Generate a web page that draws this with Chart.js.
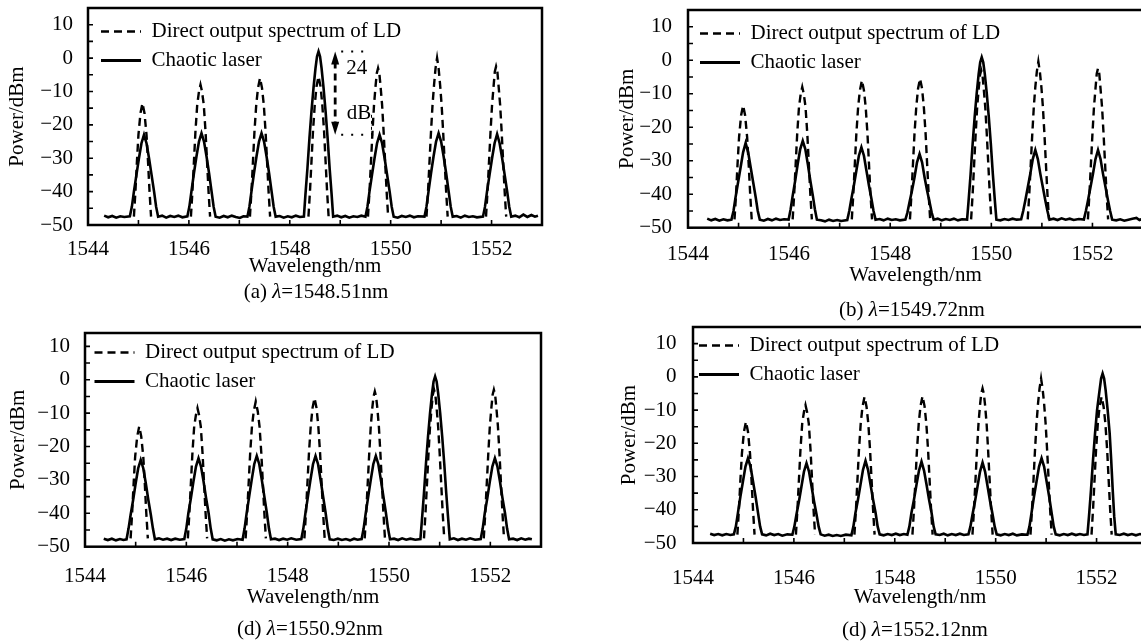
<!DOCTYPE html>
<html><head><meta charset="utf-8">
<script src="https://cdn.jsdelivr.net/npm/chart.js@4.4.0/dist/chart.umd.min.js"></script>
<style>
html,body{margin:0;padding:0;background:#fff;overflow:hidden;width:1141px;height:642px;position:relative}
.panel{position:absolute}
.cap{position:absolute;font:21px "Liberation Serif","Times New Roman",serif;line-height:24px;color:#000;white-space:nowrap;transform:translateX(-50%)}
</style></head><body>
<div class="panel" style="left:0;top:0;width:560px;height:280px"><canvas id="ca"></canvas></div>
<div class="panel" style="left:600px;top:0;width:560px;height:290px"><canvas id="cb"></canvas></div>
<div class="panel" style="left:0;top:320px;width:560px;height:322px"><canvas id="cc"></canvas></div>
<div class="panel" style="left:600px;top:320px;width:560px;height:322px"><canvas id="cd"></canvas></div>
<div class="cap" style="left:316px;top:279px">(a) <i>λ</i>=1548.51nm</div>
<div class="cap" style="left:912px;top:297px">(b) <i>λ</i>=1549.72nm</div>
<div class="cap" style="left:310px;top:616px">(d) <i>λ</i>=1550.92nm</div>
<div class="cap" style="left:915px;top:617px">(d) <i>λ</i>=1552.12nm</div>
<script>
// ---------- labels & ticks ----------
const seriesNames = ['Direct output spectrum of LD', 'Chaotic laser'];
const xTitle = 'Wavelength/nm';
const yTitle = 'Power/dBm';
const xTickLabels = [1544, 1546, 1548, 1550, 1552];
const yTickLabels = [10, 0, -10, -20, -30, -40, -50];
const xTickMarks = [1544, 1545, 1546, 1547, 1548, 1549, 1550, 1551, 1552, 1553];
const yTickMarks = [-50, -45, -40, -35, -30, -25, -20, -15, -10, -5, 0, 5, 10, 15];

// ---------- panel (a) ----------
const ldA = [
[1544.91,-47.5],[1544.94,-40],[1544.97,-31],[1545.00,-23],[1545.04,-16.5],[1545.08,-13.5],[1545.12,-16.5],[1545.16,-23],[1545.19,-31],[1545.22,-40],[1545.25,-47.5],[1545.3,null],
[1546.04,-47.5],[1546.07,-40],[1546.10,-31],[1546.13,-22],[1546.165,-14],[1546.20,-10],[1546.23,-8],[1546.26,-10],[1546.295,-14],[1546.33,-22],[1546.36,-31],[1546.39,-40],[1546.42,-47.5],[1546.5,null],
[1547.21,-47.5],[1547.24,-40],[1547.27,-31],[1547.30,-22],[1547.335,-14],[1547.37,-9],[1547.41,-6],[1547.45,-9],[1547.485,-14],[1547.52,-22],[1547.55,-31],[1547.58,-40],[1547.61,-47.5],[1547.7,null],
[1548.37,-47.5],[1548.40,-40],[1548.43,-31],[1548.46,-22],[1548.495,-14],[1548.53,-8.5],[1548.57,-5.5],[1548.61,-8.5],[1548.645,-14],[1548.68,-22],[1548.71,-31],[1548.74,-40],[1548.77,-47.5],[1548.85,null],
[1549.55,-47.5],[1549.58,-40],[1549.61,-31],[1549.64,-22],[1549.67,-14],[1549.70,-8.5],[1549.725,-4.5],[1549.75,-3],[1549.775,-4.5],[1549.80,-8.5],[1549.83,-14],[1549.86,-22],[1549.89,-31],[1549.92,-40],[1549.95,-47.5],[1550.0,null],
[1550.71,-47.5],[1550.74,-40],[1550.77,-31],[1550.80,-22],[1550.83,-14],[1550.86,-8],[1550.89,-3],[1550.92,0],[1550.95,-3],[1550.98,-8],[1551.01,-14],[1551.04,-22],[1551.07,-31],[1551.10,-40],[1551.13,-47.5],[1551.2,null],
[1551.89,-47.5],[1551.92,-40],[1551.95,-31],[1551.98,-22],[1552.01,-14],[1552.04,-8.5],[1552.065,-4],[1552.09,-2.5],[1552.115,-4],[1552.14,-8.5],[1552.17,-14],[1552.20,-22],[1552.23,-31],[1552.26,-40],[1552.29,-47.5]
];
const chaosA = [
[1544.32,-47.2],[1544.40,-47.7],[1544.48,-47.3],[1544.56,-47.8],[1544.64,-47.4],[1544.72,-47.6],[1544.83,-47.4],
[1544.87,-44.5],[1544.91,-40],[1544.96,-35],[1545.01,-30],[1545.06,-25.5],[1545.11,-23],[1545.16,-25.5],[1545.21,-30],[1545.26,-35],[1545.31,-40],[1545.35,-44.5],[1545.39,-47.5],
[1545.47,-47.2],[1545.55,-47.8],[1545.63,-47.3],[1545.71,-47.6],[1545.79,-47.2],[1545.87,-47.7],[1545.97,-47.4],
[1546.01,-44.5],[1546.05,-40],[1546.10,-34.5],[1546.15,-29.5],[1546.20,-25],[1546.25,-22.5],[1546.30,-25],[1546.35,-29.5],[1546.40,-34.5],[1546.45,-40],[1546.49,-44.5],[1546.53,-47.5],
[1546.61,-47.8],[1546.69,-47.3],[1546.77,-47.7],[1546.85,-47.2],[1546.93,-47.6],[1547.01,-47.9],[1547.08,-47.4],[1547.16,-47.5],
[1547.20,-44.5],[1547.24,-40],[1547.29,-34.5],[1547.34,-29.5],[1547.39,-25],[1547.44,-22.5],[1547.49,-25],[1547.54,-29.5],[1547.59,-34.5],[1547.64,-40],[1547.68,-44.5],[1547.72,-47.5],
[1547.80,-47.3],[1547.88,-47.8],[1547.96,-47.4],[1548.04,-47.7],[1548.12,-47.2],[1548.20,-47.6],[1548.28,-47.5],
[1548.31,-41],[1548.35,-33],[1548.39,-24],[1548.43,-16],[1548.47,-9],[1548.51,-3],[1548.54,0.5],[1548.57,2],[1548.60,0.5],[1548.63,-3],[1548.67,-9],[1548.71,-16],[1548.75,-24],[1548.79,-33],[1548.83,-41],[1548.86,-47.5],
[1548.94,-47.2],[1549.02,-47.7],[1549.10,-47.3],[1549.18,-47.8],[1549.26,-47.4],[1549.34,-47.6],[1549.42,-47.2],[1549.50,-47.5],
[1549.54,-44.5],[1549.58,-40],[1549.63,-35],[1549.68,-30],[1549.73,-25.5],[1549.78,-23],[1549.83,-25.5],[1549.88,-30],[1549.93,-35],[1549.98,-40],[1550.02,-44.5],[1550.06,-47.5],
[1550.14,-47.8],[1550.22,-47.3],[1550.30,-47.6],[1550.38,-47.2],[1550.46,-47.7],[1550.54,-47.4],[1550.67,-47.5],
[1550.71,-44.5],[1550.75,-40],[1550.80,-34.5],[1550.85,-29.5],[1550.90,-25],[1550.95,-22.5],[1551.00,-25],[1551.05,-29.5],[1551.10,-34.5],[1551.15,-40],[1551.19,-44.5],[1551.23,-47.5],
[1551.31,-47.3],[1551.39,-47.8],[1551.47,-47.2],[1551.55,-47.6],[1551.63,-47.4],[1551.71,-47.7],[1551.83,-47.5],
[1551.87,-44.5],[1551.91,-40],[1551.96,-35],[1552.01,-30],[1552.06,-25.5],[1552.11,-22.8],[1552.16,-25.5],[1552.21,-30],[1552.26,-35],[1552.31,-40],[1552.35,-44.5],[1552.39,-47.5],
[1552.47,-47.2],[1552.55,-47.7],[1552.63,-46.9],[1552.71,-47.6],[1552.79,-47.0],[1552.86,-47.5],[1552.92,-47.2]
];

// ---------- panel (b) ----------
const ldB = [
[1544.92,-47.5],[1544.95,-40],[1544.98,-31],[1545.01,-23],[1545.05,-16.5],[1545.09,-13.5],[1545.13,-16.5],[1545.17,-23],[1545.20,-31],[1545.23,-40],[1545.26,-47.5],[1545.3,null],
[1546.07,-47.5],[1546.10,-40],[1546.13,-31],[1546.16,-22],[1546.195,-14],[1546.23,-10],[1546.26,-8],[1546.29,-10],[1546.325,-14],[1546.36,-22],[1546.39,-31],[1546.42,-40],[1546.45,-47.5],[1546.5,null],
[1547.24,-47.5],[1547.27,-40],[1547.30,-31],[1547.33,-22],[1547.365,-14],[1547.40,-9],[1547.44,-6],[1547.48,-9],[1547.515,-14],[1547.55,-22],[1547.58,-31],[1547.61,-40],[1547.64,-47.5],[1547.7,null],
[1548.39,-47.5],[1548.42,-40],[1548.45,-31],[1548.48,-22],[1548.515,-14],[1548.55,-8.5],[1548.59,-5.5],[1548.63,-8.5],[1548.665,-14],[1548.70,-22],[1548.73,-31],[1548.76,-40],[1548.79,-47.5],[1548.85,null],
[1549.60,-47.5],[1549.63,-40],[1549.66,-31],[1549.69,-22],[1549.72,-14],[1549.75,-8.5],[1549.775,-4.5],[1549.80,-3],[1549.825,-4.5],[1549.85,-8.5],[1549.88,-14],[1549.91,-22],[1549.94,-31],[1549.97,-40],[1550.00,-47.5],[1550.05,null],
[1550.72,-47.5],[1550.75,-40],[1550.78,-31],[1550.81,-22],[1550.84,-14],[1550.87,-8],[1550.90,-3.4],[1550.93,-0.4],[1550.96,-3.4],[1550.99,-8],[1551.02,-14],[1551.05,-22],[1551.08,-31],[1551.11,-40],[1551.14,-47.5],[1551.2,null],
[1551.91,-47.5],[1551.94,-40],[1551.97,-31],[1552.00,-22],[1552.03,-14],[1552.06,-8.5],[1552.085,-4],[1552.11,-2.4],[1552.135,-4],[1552.16,-8.5],[1552.19,-14],[1552.22,-22],[1552.25,-31],[1552.28,-40],[1552.31,-47.5]
];
const chaosB = [
[1544.38,-47.3],[1544.46,-47.8],[1544.54,-47.4],[1544.62,-47.9],[1544.70,-47.5],[1544.78,-47.8],[1544.86,-47.6],
[1544.90,-45],[1544.94,-41],[1544.99,-36.5],[1545.04,-32],[1545.09,-27.5],[1545.14,-24.7],[1545.19,-27.5],[1545.24,-32],[1545.29,-36.5],[1545.34,-41],[1545.38,-45],[1545.42,-47.6],
[1545.50,-47.9],[1545.58,-47.4],[1545.66,-47.8],[1545.74,-47.3],[1545.82,-47.7],[1545.90,-47.5],[1545.99,-47.6],
[1546.03,-44.5],[1546.07,-40.5],[1546.12,-36],[1546.17,-31],[1546.22,-26.5],[1546.27,-24.1],[1546.32,-26.5],[1546.37,-31],[1546.42,-36],[1546.47,-40.5],[1546.51,-44.5],[1546.55,-47.6],
[1546.63,-47.8],[1546.71,-48.1],[1546.79,-47.6],[1546.87,-48.0],[1546.95,-47.7],[1547.03,-48.0],[1547.15,-47.7],
[1547.19,-45],[1547.23,-41.5],[1547.28,-37.5],[1547.33,-33],[1547.38,-28.5],[1547.43,-26],[1547.48,-28.5],[1547.53,-33],[1547.58,-37.5],[1547.63,-41.5],[1547.67,-45],[1547.71,-47.6],
[1547.79,-47.4],[1547.87,-47.8],[1547.95,-47.3],[1548.03,-47.7],[1548.11,-47.5],[1548.19,-47.8],[1548.30,-47.6],
[1548.34,-45.5],[1548.38,-42.5],[1548.43,-39],[1548.48,-35],[1548.53,-30.5],[1548.58,-28],[1548.63,-30.5],[1548.68,-35],[1548.73,-39],[1548.78,-42.5],[1548.82,-45.5],[1548.86,-47.6],
[1548.94,-47.3],[1549.02,-47.8],[1549.10,-47.4],[1549.18,-47.7],[1549.26,-47.3],[1549.34,-47.8],[1549.42,-47.5],[1549.52,-47.6],
[1549.55,-42],[1549.59,-34],[1549.63,-25],[1549.67,-17],[1549.71,-10],[1549.75,-4],[1549.78,-0.6],[1549.81,0.9],[1549.84,-0.6],[1549.87,-4],[1549.91,-10],[1549.95,-17],[1549.99,-25],[1550.03,-34],[1550.07,-42],[1550.10,-47.6],
[1550.18,-47.8],[1550.26,-47.4],[1550.34,-47.7],[1550.42,-47.3],[1550.50,-47.6],[1550.59,-47.5],
[1550.63,-45],[1550.67,-42],[1550.72,-38],[1550.77,-34],[1550.82,-29.5],[1550.87,-26.8],[1550.92,-29.5],[1550.97,-34],[1551.02,-38],[1551.07,-42],[1551.11,-45],[1551.15,-47.6],
[1551.23,-47.3],[1551.31,-47.7],[1551.39,-47.2],[1551.47,-47.6],[1551.55,-47.3],[1551.63,-47.7],[1551.73,-47.4],[1551.83,-47.6],
[1551.87,-45],[1551.91,-42],[1551.96,-38],[1552.01,-34],[1552.06,-29.5],[1552.11,-26.8],[1552.16,-29.5],[1552.21,-34],[1552.26,-38],[1552.31,-42],[1552.35,-45],[1552.39,-47.6],
[1552.47,-47.8],[1552.55,-47.5],[1552.63,-47.9],[1552.71,-47.6],[1552.79,-47.3],[1552.87,-47.1],[1552.93,-47.7],[1552.98,-47.4]
];

// ---------- panel (c) ----------
const ldC = [
[1544.90,-47.5],[1544.93,-40],[1544.96,-31],[1544.99,-23],[1545.03,-17],[1545.07,-14],[1545.11,-17],[1545.15,-23],[1545.18,-31],[1545.21,-40],[1545.24,-47.5],[1545.3,null],
[1546.03,-47.5],[1546.06,-40],[1546.09,-31],[1546.12,-22],[1546.155,-14],[1546.19,-10.5],[1546.22,-8.5],[1546.25,-10.5],[1546.285,-14],[1546.32,-22],[1546.35,-31],[1546.38,-40],[1546.41,-47.5],[1546.5,null],
[1547.17,-47.5],[1547.20,-40],[1547.23,-31],[1547.26,-22],[1547.295,-14],[1547.33,-9.5],[1547.37,-6.5],[1547.41,-9.5],[1547.445,-14],[1547.48,-22],[1547.51,-31],[1547.54,-40],[1547.57,-47.5],[1547.65,null],
[1548.33,-47.5],[1548.36,-40],[1548.39,-31],[1548.42,-22],[1548.455,-14],[1548.49,-8.5],[1548.53,-5.5],[1548.57,-8.5],[1548.605,-14],[1548.64,-22],[1548.67,-31],[1548.70,-40],[1548.73,-47.5],[1548.8,null],
[1549.52,-47.5],[1549.55,-40],[1549.58,-31],[1549.61,-22],[1549.64,-14],[1549.67,-8.5],[1549.695,-5],[1549.72,-3.5],[1549.745,-5],[1549.77,-8.5],[1549.80,-14],[1549.83,-22],[1549.86,-31],[1549.89,-40],[1549.92,-47.5],[1550.0,null],
[1550.69,-47.5],[1550.72,-40],[1550.75,-31],[1550.78,-22],[1550.81,-14],[1550.84,-8.5],[1550.865,-4.5],[1550.89,-3],[1550.915,-4.5],[1550.94,-8.5],[1550.97,-14],[1551.00,-22],[1551.03,-31],[1551.06,-40],[1551.09,-47.5],[1551.15,null],
[1551.87,-47.5],[1551.90,-40],[1551.93,-31],[1551.96,-22],[1551.99,-14],[1552.02,-8.5],[1552.045,-4.5],[1552.07,-3],[1552.095,-4.5],[1552.12,-8.5],[1552.15,-14],[1552.18,-22],[1552.21,-31],[1552.24,-40],[1552.27,-47.5]
];
const chaosC = [
[1544.37,-47.6],[1544.45,-48.0],[1544.53,-47.6],[1544.61,-48.1],[1544.69,-47.7],[1544.76,-48.0],[1544.82,-47.8],
[1544.86,-44.5],[1544.90,-40.5],[1544.95,-36],[1545.00,-31],[1545.05,-26.5],[1545.10,-24],[1545.15,-26.5],[1545.20,-31],[1545.25,-36],[1545.30,-40.5],[1545.34,-44.5],[1545.38,-47.8],
[1545.46,-47.5],[1545.54,-47.9],[1545.62,-47.6],[1545.70,-48.0],[1545.78,-47.6],[1545.87,-47.9],[1545.96,-47.7],
[1546.00,-44.5],[1546.04,-40],[1546.09,-35.5],[1546.14,-30.5],[1546.19,-26],[1546.24,-23.5],[1546.29,-26],[1546.34,-30.5],[1546.39,-35.5],[1546.44,-40],[1546.48,-44.5],[1546.52,-47.8],
[1546.60,-48.1],[1546.68,-47.7],[1546.76,-48.2],[1546.84,-47.8],[1546.92,-48.1],[1547.01,-47.7],[1547.11,-47.9],
[1547.15,-44.5],[1547.19,-40],[1547.24,-35],[1547.29,-30],[1547.34,-25.3],[1547.39,-22.8],[1547.44,-25.3],[1547.49,-30],[1547.54,-35],[1547.59,-40],[1547.63,-44.5],[1547.67,-47.8],
[1547.75,-47.6],[1547.83,-48.0],[1547.91,-47.6],[1547.99,-47.9],[1548.07,-47.5],[1548.17,-47.9],[1548.27,-47.7],
[1548.31,-44.5],[1548.35,-40],[1548.40,-35],[1548.45,-30],[1548.50,-25.3],[1548.55,-22.8],[1548.60,-25.3],[1548.65,-30],[1548.70,-35],[1548.75,-40],[1548.79,-44.5],[1548.83,-47.8],
[1548.91,-48.0],[1548.99,-47.6],[1549.07,-48.0],[1549.15,-47.7],[1549.23,-48.1],[1549.31,-47.6],[1549.38,-47.9],[1549.46,-47.7],
[1549.50,-44.5],[1549.54,-40],[1549.59,-35],[1549.64,-30],[1549.69,-25.3],[1549.74,-22.8],[1549.79,-25.3],[1549.84,-30],[1549.89,-35],[1549.94,-40],[1549.98,-44.5],[1550.02,-47.8],
[1550.10,-47.6],[1550.18,-48.0],[1550.26,-47.5],[1550.34,-47.9],[1550.42,-47.6],[1550.52,-47.9],[1550.62,-47.7],
[1550.65,-42],[1550.69,-34],[1550.73,-25],[1550.77,-17],[1550.81,-10],[1550.85,-4],[1550.88,-0.5],[1550.91,1],[1550.94,-0.5],[1550.97,-4],[1551.01,-10],[1551.05,-17],[1551.09,-25],[1551.13,-34],[1551.17,-42],[1551.20,-47.8],
[1551.28,-47.5],[1551.36,-48.0],[1551.44,-47.6],[1551.52,-47.9],[1551.60,-47.5],[1551.70,-47.9],[1551.81,-47.7],
[1551.85,-44.5],[1551.89,-40],[1551.94,-35.5],[1551.99,-30.5],[1552.04,-26],[1552.09,-23.5],[1552.14,-26],[1552.19,-30.5],[1552.24,-35.5],[1552.29,-40],[1552.33,-44.5],[1552.37,-47.8],
[1552.45,-47.6],[1552.53,-48.0],[1552.61,-47.5],[1552.69,-47.9],[1552.76,-47.6],[1552.82,-47.8]
];

// ---------- panel (d) ----------
const ldD = [
[1544.88,-47.5],[1544.91,-40],[1544.94,-31],[1544.97,-23],[1545.01,-16.5],[1545.05,-13.5],[1545.09,-16.5],[1545.13,-23],[1545.16,-31],[1545.19,-40],[1545.22,-47.5],[1545.3,null],
[1546.04,-47.5],[1546.07,-40],[1546.10,-31],[1546.13,-22],[1546.165,-14],[1546.20,-10.5],[1546.23,-8.5],[1546.26,-10.5],[1546.295,-14],[1546.33,-22],[1546.36,-31],[1546.39,-40],[1546.42,-47.5],[1546.5,null],
[1547.20,-47.5],[1547.23,-40],[1547.26,-31],[1547.29,-22],[1547.325,-14],[1547.36,-9],[1547.40,-6],[1547.44,-9],[1547.475,-14],[1547.51,-22],[1547.54,-31],[1547.57,-40],[1547.60,-47.5],[1547.7,null],
[1548.35,-47.5],[1548.38,-40],[1548.41,-31],[1548.44,-22],[1548.475,-14],[1548.51,-8.8],[1548.55,-5.8],[1548.59,-8.8],[1548.625,-14],[1548.66,-22],[1548.69,-31],[1548.72,-40],[1548.75,-47.5],[1548.8,null],
[1549.54,-47.5],[1549.57,-40],[1549.60,-31],[1549.63,-22],[1549.66,-14],[1549.69,-8.5],[1549.715,-5],[1549.74,-3.5],[1549.765,-5],[1549.79,-8.5],[1549.82,-14],[1549.85,-22],[1549.88,-31],[1549.91,-40],[1549.94,-47.5],[1550.0,null],
[1550.69,-47.5],[1550.72,-40],[1550.75,-31],[1550.78,-22],[1550.81,-14],[1550.84,-8],[1550.87,-3.5],[1550.90,-0.5],[1550.93,-3.5],[1550.96,-8],[1550.99,-14],[1551.02,-22],[1551.05,-31],[1551.08,-40],[1551.11,-47.5],[1551.2,null],
[1551.90,-47.5],[1551.93,-40],[1551.96,-31],[1551.99,-22],[1552.025,-14],[1552.06,-9],[1552.10,-6],[1552.14,-9],[1552.175,-14],[1552.21,-22],[1552.24,-31],[1552.27,-40],[1552.30,-47.5]
];
const chaosD = [
[1544.34,-47.2],[1544.42,-47.6],[1544.50,-47.3],[1544.58,-47.7],[1544.66,-47.3],[1544.74,-47.6],[1544.81,-47.4],
[1544.85,-45],[1544.89,-41],[1544.94,-36],[1544.99,-31.5],[1545.04,-27],[1545.09,-24.5],[1545.14,-27],[1545.19,-31.5],[1545.24,-36],[1545.29,-41],[1545.33,-45],[1545.37,-47.4],
[1545.45,-47.7],[1545.53,-47.2],[1545.61,-47.6],[1545.69,-47.3],[1545.77,-47.8],[1545.87,-47.4],[1545.97,-47.5],
[1546.01,-45],[1546.05,-41.5],[1546.10,-37.5],[1546.15,-33],[1546.20,-28.5],[1546.25,-26],[1546.30,-28.5],[1546.35,-33],[1546.40,-37.5],[1546.45,-41.5],[1546.49,-45],[1546.53,-47.4],
[1546.61,-47.8],[1546.69,-47.5],[1546.77,-47.9],[1546.85,-47.6],[1546.93,-47.9],[1547.03,-47.5],[1547.14,-47.7],
[1547.18,-45],[1547.22,-41],[1547.27,-37],[1547.32,-32.5],[1547.37,-28],[1547.42,-25.3],[1547.47,-28],[1547.52,-32.5],[1547.57,-37],[1547.62,-41],[1547.66,-45],[1547.70,-47.4],
[1547.78,-47.7],[1547.86,-47.3],[1547.94,-47.6],[1548.02,-47.2],[1548.10,-47.6],[1548.18,-47.3],[1548.25,-47.5],
[1548.29,-45],[1548.33,-41],[1548.38,-37],[1548.43,-32.5],[1548.48,-28.2],[1548.53,-25.5],[1548.58,-28.2],[1548.63,-32.5],[1548.68,-37],[1548.73,-41],[1548.77,-45],[1548.81,-47.4],
[1548.89,-47.6],[1548.97,-47.2],[1549.05,-47.7],[1549.13,-47.3],[1549.21,-47.6],[1549.29,-47.2],[1549.37,-47.6],[1549.46,-47.4],
[1549.50,-45],[1549.54,-41.5],[1549.59,-37.5],[1549.64,-33],[1549.69,-28.5],[1549.74,-25.8],[1549.79,-28.5],[1549.84,-33],[1549.89,-37.5],[1549.94,-41.5],[1549.98,-45],[1550.02,-47.4],
[1550.10,-47.7],[1550.18,-47.3],[1550.26,-47.6],[1550.34,-47.2],[1550.42,-47.7],[1550.52,-47.4],[1550.63,-47.5],
[1550.67,-45],[1550.71,-41],[1550.76,-36],[1550.81,-31.5],[1550.86,-27],[1550.91,-24.5],[1550.96,-27],[1551.01,-31.5],[1551.06,-36],[1551.11,-41],[1551.15,-45],[1551.19,-47.4],
[1551.27,-47.7],[1551.35,-47.3],[1551.43,-47.6],[1551.51,-47.2],[1551.59,-47.6],[1551.67,-47.3],[1551.75,-47.6],[1551.82,-47.4],
[1551.85,-42],[1551.89,-34],[1551.93,-25],[1551.97,-17],[1552.01,-10],[1552.06,-4],[1552.09,-0.5],[1552.12,1],[1552.15,-0.5],[1552.18,-4],[1552.22,-10],[1552.26,-17],[1552.29,-25],[1552.32,-34],[1552.35,-42],[1552.38,-47.4],
[1552.46,-47.6],[1552.54,-47.2],[1552.62,-47.6],[1552.70,-47.3],[1552.78,-47.7],[1552.86,-47.3],[1552.94,-47.6],[1553.0,-47.4]
];

// annotation in panel (a): 24 dB difference
const gainNote = {x: 1548.90, yTop: 2, yBottom: -23, xEndTop: 1549.55, xEndBottom: 1549.68,
  boxX: 1549.62, boxYTop: -17, text1: '24', text1X: 1549.33, text1Y: -3, text2: 'dB', text2X: 1549.37, text2Y: -16.5};

// ---------- drawing ----------
const FONT = '"Liberation Serif", "Times New Roman", serif';
const FS = 21;
Chart.defaults.font.family = FONT;
Chart.defaults.font.size = FS;
Chart.defaults.color = '#000';

const fmtY = v => (v < 0 ? '\u2212' + Math.abs(v) : String(v));

const framePlugin = {
  id: 'frameTicks',
  afterLayout(chart) {
    const g = chart.config.options.plugins.frameTicks || {};
    const lg = chart.legend;
    if (lg) {
      const h = lg.bottom - lg.top, w = lg.right - lg.left;
      lg.top = chart.chartArea.top + (g.legendDy || 0);
      lg.bottom = lg.top + h;
      lg.left = chart.chartArea.left + (g.legendDx || 0);
      lg.right = lg.left + w;
    }
  },
  afterDatasetsDraw(chart) {
    const {ctx, chartArea: {left, right, top, bottom}, scales: {x, y}} = chart;
    ctx.save();
    ctx.strokeStyle = '#000';
    ctx.lineWidth = 2.5;
    ctx.setLineDash([]);
    ctx.strokeRect(left, top, right - left, bottom - top);
    ctx.lineWidth = 1.6;
    ctx.beginPath();
    xTickMarks.forEach(v => { const p = x.getPixelForValue(v); if (p < left - 1 || p > right + 1) return; ctx.moveTo(p, bottom); ctx.lineTo(p, bottom - 5); });
    yTickMarks.forEach(v => { const p = y.getPixelForValue(v); if (p < top - 1 || p > bottom + 1) return; ctx.moveTo(left, p); ctx.lineTo(left + 5, p); });
    ctx.stroke();
    ctx.restore();
  }
};

const notePlugin = {
  id: 'gainNote',
  afterDatasetsDraw(chart) {
    const {ctx, scales: {x, y}} = chart;
    const n = gainNote;
    const px = x.getPixelForValue(n.x), pt = y.getPixelForValue(n.yTop), pb = y.getPixelForValue(n.yBottom);
    ctx.save();
    ctx.strokeStyle = '#000'; ctx.fillStyle = '#000';
    ctx.lineWidth = 2.8; ctx.setLineDash([7, 5]);
    ctx.beginPath(); ctx.moveTo(px, pt + 10); ctx.lineTo(px, pb - 10); ctx.stroke();
    ctx.setLineDash([]);
    ctx.beginPath(); ctx.moveTo(px, pt); ctx.lineTo(px - 4, pt + 13); ctx.lineTo(px + 4, pt + 13); ctx.closePath(); ctx.fill();
    ctx.beginPath(); ctx.moveTo(px, pb); ctx.lineTo(px - 4, pb - 13); ctx.lineTo(px + 4, pb - 13); ctx.closePath(); ctx.fill();
    ctx.lineWidth = 2; ctx.setLineDash([2, 8]);
    ctx.beginPath(); ctx.moveTo(px + 6, pt); ctx.lineTo(x.getPixelForValue(n.xEndTop), pt); ctx.stroke();
    ctx.beginPath(); ctx.moveTo(px + 6, pb); ctx.lineTo(x.getPixelForValue(n.xEndBottom), pb); ctx.stroke();
    ctx.lineWidth = 1; ctx.setLineDash([3, 3]);
    const bx = x.getPixelForValue(n.boxX);
    ctx.beginPath(); ctx.moveTo(bx, y.getPixelForValue(n.boxYTop)); ctx.lineTo(bx, pb); ctx.stroke();
    ctx.setLineDash([]);
    ctx.font = FS + 'px ' + FONT; ctx.textAlign = 'center'; ctx.textBaseline = 'middle';
    ctx.fillText(n.text1, x.getPixelForValue(n.text1X), y.getPixelForValue(n.text1Y));
    ctx.fillText(n.text2, x.getPixelForValue(n.text2X), y.getPixelForValue(n.text2Y));
    ctx.restore();
  }
};

function legendLabels(chart) {
  const items = Chart.defaults.plugins.legend.labels.generateLabels(chart);
  return items.map(it => {
    const ds = chart.data.datasets[it.datasetIndex];
    return Object.assign(it, {lineDash: ds.borderDash || [], lineWidth: ds.borderDash ? 2.6 : 3, strokeStyle: '#000', fillStyle: '#000', pointStyle: 'line'});
  });
}

function makeChart(id, ld, chaos, g, extra) {
  const toXY = arr => arr.map(p => ({x: p[0], y: p[1]}));
  return new Chart(document.getElementById(id), {
    type: 'line',
    data: {
      datasets: [
        {label: seriesNames[0], data: toXY(ld), borderColor: '#000', borderWidth: 2.4, borderDash: [8, 5], pointRadius: 0, tension: 0, fill: false},
        {label: seriesNames[1], data: toXY(chaos), borderColor: '#000', borderWidth: 2.6, pointRadius: 0, tension: 0, fill: false}
      ]
    },
    options: {
      animation: false, responsive: true, maintainAspectRatio: false,
      layout: {padding: g.pad},
      plugins: {
        tooltip: {enabled: false},
        frameTicks: {legendDy: g.legendDy, legendDx: g.legendDx},
        legend: {
          position: 'chartArea', align: 'start',
          labels: {usePointStyle: true, pointStyle: 'line', pointStyleWidth: 40, padding: 8, color: '#000',
                   font: {size: FS, family: FONT}, generateLabels: legendLabels}
        }
      },
      scales: {
        x: {
          type: 'linear', min: 1544, max: 1553,
          grid: {display: false}, border: {display: false},
          afterBuildTicks: s => { s.ticks = xTickLabels.map(v => ({value: v})); },
          afterFit: s => { s.height = g.xH; s.paddingLeft = 0; s.paddingRight = 0; s.paddingTop = 0; s.paddingBottom = 0; },
          ticks: {padding: g.xTickPad, maxRotation: 0, autoSkip: false, callback: v => String(v)},
          title: {display: true, text: xTitle, padding: {top: 0, bottom: g.xTitlePadB}}
        },
        y: {
          type: 'linear', min: -50, max: g.yMax,
          grid: {display: false}, border: {display: false},
          afterBuildTicks: s => { s.ticks = yTickLabels.map(v => ({value: v})); },
          afterFit: s => { s.width = g.yW; s.paddingLeft = 0; s.paddingRight = 0; s.paddingTop = 0; s.paddingBottom = 0; },
          ticks: {padding: g.yTickPad, autoSkip: false, callback: v => fmtY(v)},
          title: {display: true, text: yTitle, padding: {top: g.yTitlePadT, bottom: 0}}
        }
      }
    },
    plugins: extra ? [framePlugin, notePlugin] : [framePlugin]
  });
}

makeChart('ca', ldA, chaosA, {pad: {left: 0, right: 18, top: 8, bottom: 0}, yMax: 15, yW: 88, xH: 55, xTickPad: 3.4, xTitlePadB: 0.9, yTitlePadT: 4.9, yTickPad: 7, legendDy: 5, legendDx: 5}, true);
makeChart('cb', ldB, chaosB, {pad: {left: 0, right: 17, top: 10, bottom: 0}, yMax: 15, yW: 88, xH: 62.3, xTickPad: 5.7, xTitlePadB: 2.4, yTitlePadT: 14.4, yTickPad: 8, legendDy: 5, legendDx: 4}, false);
makeChart('cc', ldC, chaosC, {pad: {left: 0, right: 19, top: 13, bottom: 31.9}, yMax: 14, yW: 85, xH: 63.4, xTickPad: 9.2, xTitlePadB: 0, yTitlePadT: 6.1, yTickPad: 7, legendDy: 1, legendDx: 1.5}, false);
makeChart('cd', ldD, chaosD, {pad: {left: 0, right: 13, top: 7, bottom: 31.9}, yMax: 15, yW: 93, xH: 67.1, xTickPad: 14.4, xTitlePadB: 0, yTitlePadT: 16.4, yTickPad: 8.5, legendDy: 0, legendDx: -2}, false);
</script>
</body></html>
